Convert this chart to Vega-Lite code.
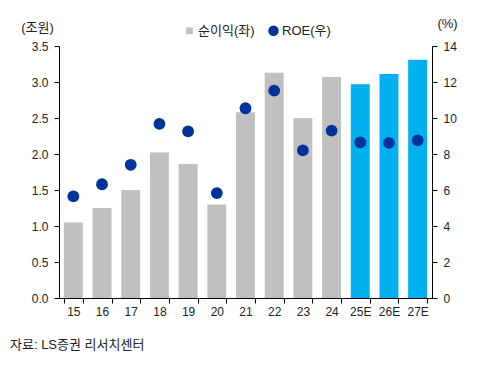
{
  "$schema": "https://vega.github.io/schema/vega-lite/v6.json",
  "width": 373,
  "height": 252,
  "autosize": {"type": "none"},
  "padding": {"left": 59, "top": 46, "right": 50, "bottom": 68},
  "background": "white",
  "config": {
    "view": {"stroke": null},
    "font": "Liberation Sans, Noto Sans CJK KR",
    "axis": {
      "labelFont": "Liberation Sans, Noto Sans CJK KR",
      "labelFontSize": 12,
      "labelColor": "#222222",
      "domainColor": "#000000",
      "tickColor": "#000000",
      "grid": false,
      "titleFont": "Liberation Sans, Noto Sans CJK KR",
      "titleFontSize": 13,
      "titleFontWeight": "normal",
      "titleColor": "#222222"
    }
  },
  "title": {
    "text": "자료: LS증권 리서치센터",
    "orient": "bottom",
    "anchor": "start",
    "frame": "group",
    "font": "Liberation Sans, Noto Sans CJK KR",
    "fontSize": 13,
    "fontWeight": "normal",
    "color": "#222222",
    "offset": 22,
    "dx": -49
  },
  "data": {
    "values": [
      {"year": "15", "profit": 1.05, "roe": 5.65, "series": "순이익(좌)"},
      {"year": "16", "profit": 1.25, "roe": 6.32, "series": "순이익(좌)"},
      {"year": "17", "profit": 1.5, "roe": 7.4, "series": "순이익(좌)"},
      {"year": "18", "profit": 2.02, "roe": 9.67, "series": "순이익(좌)"},
      {"year": "19", "profit": 1.86, "roe": 9.26, "series": "순이익(좌)"},
      {"year": "20", "profit": 1.3, "roe": 5.83, "series": "순이익(좌)"},
      {"year": "21", "profit": 2.58, "roe": 10.54, "series": "순이익(좌)"},
      {"year": "22", "profit": 3.13, "roe": 11.52, "series": "순이익(좌)"},
      {"year": "23", "profit": 2.5, "roe": 8.2, "series": "순이익(좌)"},
      {"year": "24", "profit": 3.07, "roe": 9.3, "series": "순이익(좌)"},
      {"year": "25E", "profit": 2.97, "roe": 8.65, "series": "순이익(전망)"},
      {"year": "26E", "profit": 3.11, "roe": 8.62, "series": "순이익(전망)"},
      {"year": "27E", "profit": 3.31, "roe": 8.76, "series": "순이익(전망)"}
    ]
  },
  "encoding": {
    "x": {
      "field": "year",
      "type": "ordinal",
      "sort": null,
      "scale": {"paddingInner": 0.34, "paddingOuter": 0.17},
      "axis": {
        "title": null,
        "labelAngle": 0,
        "tickBand": "extent",
        "tickSize": 5,
        "labelPadding": 3
      }
    }
  },
  "layer": [
    {
      "mark": {"type": "bar"},
      "encoding": {
        "y": {
          "field": "profit",
          "type": "quantitative",
          "scale": {"domain": [0, 3.5], "nice": false},
          "axis": {
            "values": [0, 0.5, 1, 1.5, 2, 2.5, 3, 3.5],
            "format": ".1f",
            "tickSize": 5,
            "labelPadding": 6,
            "title": "(조원)",
            "titleAngle": 0,
            "titleAlign": "center",
            "titleBaseline": "middle",
            "titleX": -22,
            "titleY": -19
          }
        },
        "color": {
          "field": "series",
          "type": "nominal",
          "scale": {
            "domain": ["순이익(좌)", "ROE(우)", "순이익(전망)"],
            "range": ["#c0c0c0", "#003399", "#00b0f0"]
          },
          "legend": {
            "title": null,
            "orient": "none",
            "direction": "horizontal",
            "legendX": 124,
            "legendY": -22,
            "values": ["순이익(좌)", "ROE(우)"],
            "labelFont": "Liberation Sans, Noto Sans CJK KR",
            "labelFontSize": 13,
            "labelColor": "#222222",
            "labelOffset": 2,
            "columnPadding": 12,
            "encode": {
              "symbols": {
                "update": {
                  "shape": {"signal": "datum.value === 'ROE(우)' ? 'circle' : 'square'"},
                  "size": {"signal": "datum.value === 'ROE(우)' ? 110 : 45"},
                  "strokeWidth": {"value": 0},
                  "opacity": {"value": 1}
                }
              }
            }
          }
        }
      }
    },
    {
      "mark": {"type": "point", "filled": true, "size": 140, "opacity": 1},
      "encoding": {
        "y": {
          "field": "roe",
          "type": "quantitative",
          "scale": {"domain": [0, 14], "nice": false},
          "axis": {
            "orient": "right",
            "values": [0, 2, 4, 6, 8, 10, 12, 14],
            "tickSize": 5,
            "labelPadding": 6,
            "title": "(%)",
            "titleAngle": 0,
            "titleAlign": "center",
            "titleBaseline": "middle",
            "titleX": 15,
            "titleY": -23
          }
        },
        "color": {"datum": "ROE(우)"}
      }
    }
  ],
  "resolve": {"scale": {"y": "independent"}}
}
